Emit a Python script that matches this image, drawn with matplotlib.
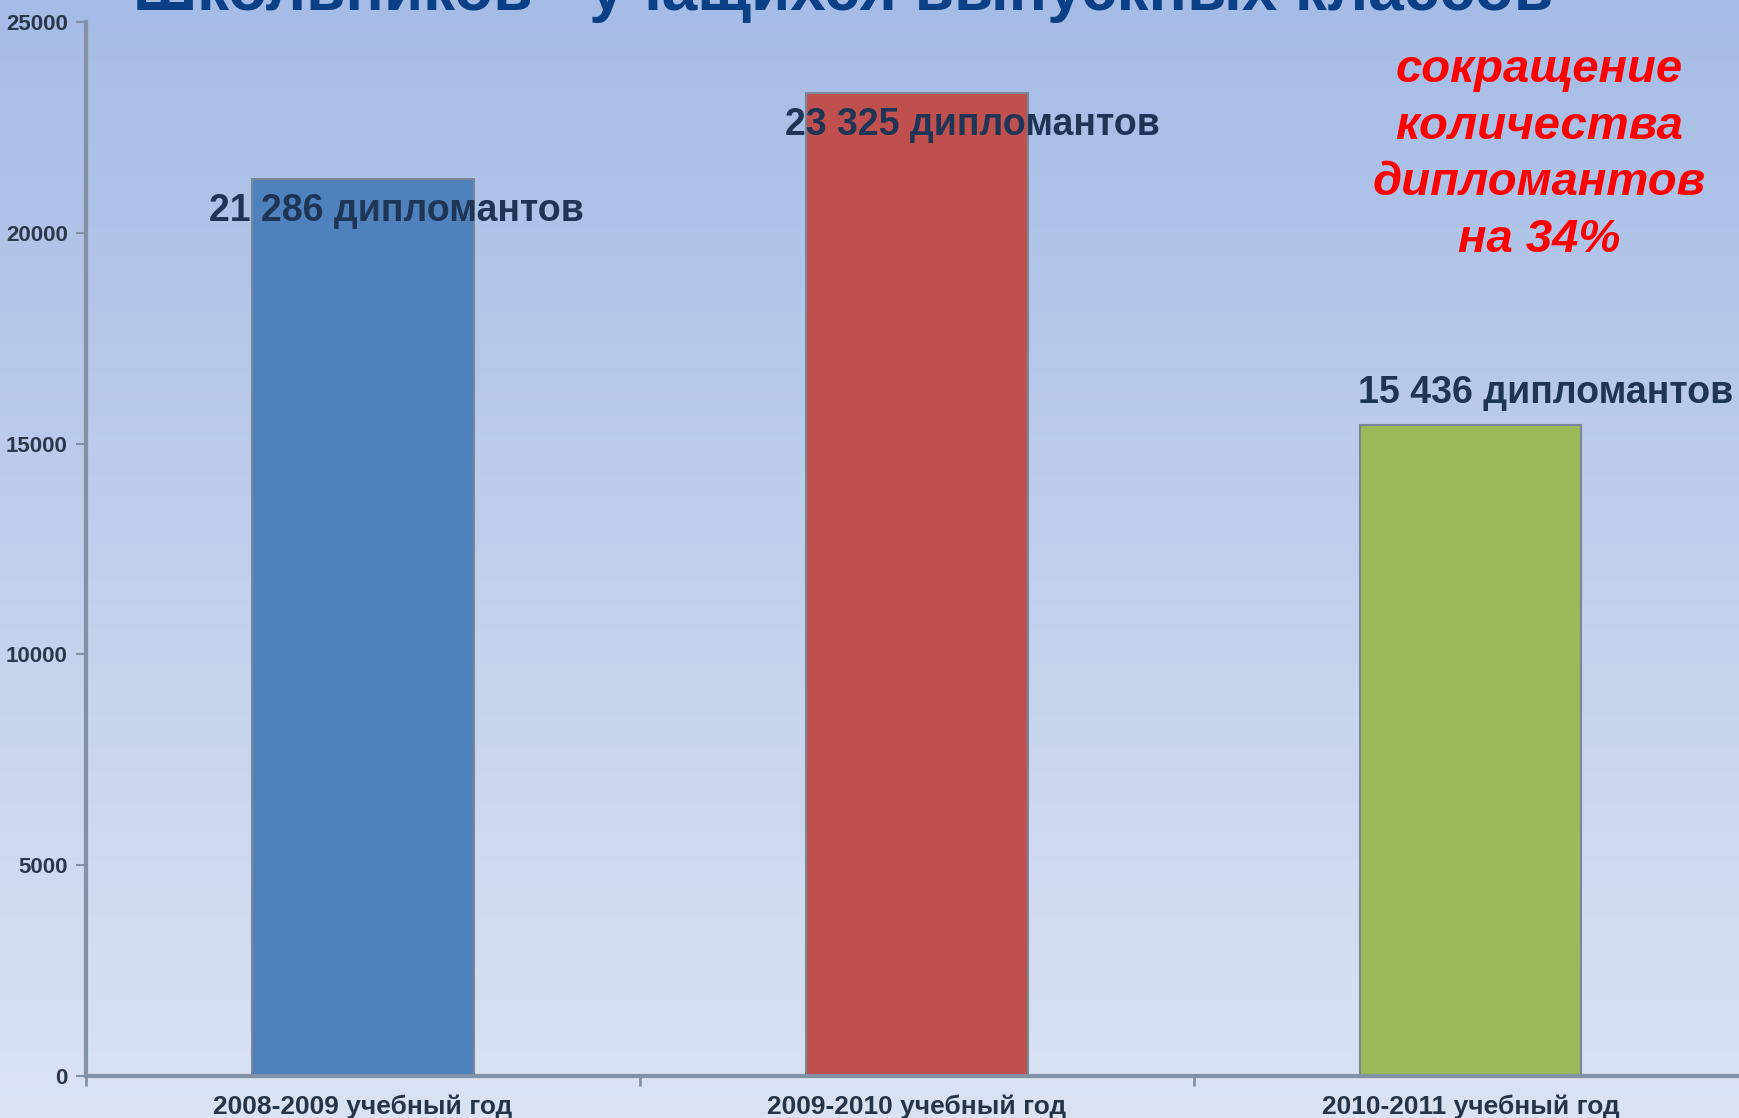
import numpy as np
import matplotlib
matplotlib.use("Agg")
import matplotlib.pyplot as plt

# Данные
years = ["2008-2009 учебный год", "2009-2010 учебный год", "2010-2011 учебный год"]
graduates = [21286, 23325, 15436]
value_labels = ["21 286 дипломантов", "23 325 дипломантов", "15 436 дипломантов"]
bar_colors = ["#4F81BD", "#C0504D", "#9BBB59"]
y_ticks = [0, 5000, 10000, 15000, 20000, 25000]

title = "Школьников - учащихся выпускных классов"
note = "сокращение\nколичества\nдипломантов\nна 34%"

plt.rcParams["font.family"] = ["Liberation Sans", "DejaVu Sans"]

fig = plt.figure(figsize=(17.4, 11.18), dpi=100)

# фон: вертикальный градиент
bg = fig.add_axes([0, 0, 1, 1], zorder=-10)
top = np.array([165, 188, 230]) / 255
bottom = np.array([219, 227, 243]) / 255
t = np.linspace(0, 1, 256)[:, None]
grad = top * (1 - t) + bottom * t
bg.imshow(grad[:, None, :], aspect="auto", extent=[0, 1, 0, 1])
bg.set_axis_off()

ax = fig.add_axes([0.0494, 0.0376, 0.955, 0.9427])
ax.patch.set_alpha(0)

x = np.arange(len(years))
ax.bar(x, graduates, width=0.4, color=bar_colors, edgecolor="#7A8799",
       linewidth=1.5, zorder=2)

# подписи значений (смещения подобраны под оригинал)
dx = [0.06, 0.10, 0.135]
dy = [-760, -760, 760]
for i, (v, lab) in enumerate(zip(graduates, value_labels)):
    ax.text(x[i] + dx[i], v + dy[i], lab, ha="center", va="center",
            fontsize=27, fontweight="bold", color="#1E3556", zorder=3)

ax.set_xlim(-0.5, 2.5)
ax.set_ylim(0, 25000)
ax.set_yticks(y_ticks)
ax.set_yticklabels([str(v) for v in y_ticks], fontsize=16,
                   fontweight="bold", color="#2A384C")
ax.set_xticks(x)
ax.set_xticklabels(years, fontsize=19, fontweight="bold", color="#26344A")
ax.set_xticks([-0.5, 0.5, 1.5, 2.5], minor=True)
ax.tick_params(axis="x", which="major", length=0, pad=13)
ax.tick_params(axis="x", which="minor", length=7, width=2, color="#8391A6",
               direction="out")
ax.tick_params(axis="y", length=7, width=1.5, color="#8391A6", pad=6)

for s in ["top", "right"]:
    ax.spines[s].set_visible(False)
for s in ["left", "bottom"]:
    ax.spines[s].set_color("#8391A6")
    ax.spines[s].set_linewidth(3)

# заголовок (обрезан сверху, как на слайде)
fig.text(0.4845, 0.991, title, ha="center", va="baseline", fontsize=46,
         fontweight="bold", color="#0B3F86")

fig.text(0.8845, 0.957, note, ha="center", va="top", fontsize=34,
         fontweight="bold", fontstyle="italic", color="#FF0000",
         linespacing=1.37)

fig.savefig("out.png", dpi=100)
